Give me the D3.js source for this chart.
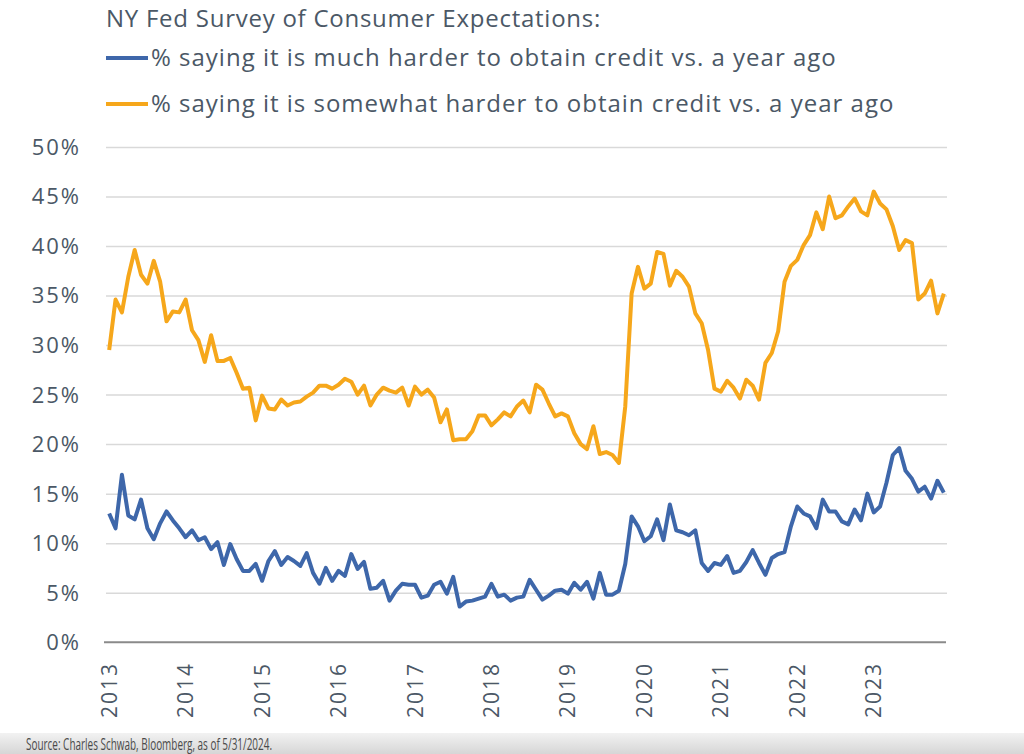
<!DOCTYPE html>
<html><head><meta charset="utf-8">
<script src="https://cdn.jsdelivr.net/npm/d3@7"></script>
<style>
body{margin:0;background:#fff}
svg{display:block}
text{font-family:"Open Sans",sans-serif}
</style>
</head><body>
<svg id="c" width="1024" height="754"></svg>
<script>
// ---- data (monthly, Jun 2013 – May 2024) ----
const months = d3.timeMonth.range(new Date(2013, 5, 1), new Date(2024, 5, 1)).map(d3.timeFormat("%Y-%m"));
const muchHarder = [
 13.0,11.5,16.9,12.8,12.4,14.4,11.5,10.4,12.0,13.2,12.3,11.5,10.6,11.3,10.3,10.6,9.4,10.1,7.8,9.9,
 8.4,7.2,7.2,7.9,6.2,8.2,9.2,7.8,8.6,8.2,7.7,9.0,7.0,5.9,7.5,6.2,7.2,6.7,8.9,7.4,
 8.1,5.4,5.5,6.2,4.2,5.2,5.9,5.8,5.8,4.5,4.7,5.8,6.1,4.9,6.6,3.6,4.1,4.2,4.4,4.6,
 5.9,4.6,4.8,4.2,4.5,4.6,6.3,5.3,4.3,4.7,5.2,5.3,4.9,6.0,5.3,6.1,4.4,7.0,4.8,4.8,
 5.2,7.9,12.7,11.7,10.2,10.7,12.4,10.3,13.9,11.3,11.1,10.8,11.3,8.0,7.2,8.0,7.8,8.7,7.0,7.2,
 8.1,9.3,8.0,6.8,8.5,8.9,9.1,11.7,13.7,13.0,12.7,11.5,14.4,13.2,13.2,12.2,11.9,13.4,12.3,15.0,
 13.1,13.7,16.1,18.9,19.6,17.3,16.5,15.2,15.7,14.5,16.3,15.1
];
const somewhatHarder = [
 29.5,34.6,33.3,36.9,39.6,37.1,36.2,38.5,36.4,32.4,33.4,33.3,34.6,31.5,30.5,28.3,31.0,28.4,28.4,28.7,
 27.2,25.6,25.7,22.4,24.9,23.6,23.5,24.5,23.9,24.2,24.3,24.8,25.2,25.9,25.9,25.6,26.0,26.6,26.3,25.0,
 25.9,23.9,25.0,25.7,25.4,25.2,25.7,23.9,25.8,25.0,25.5,24.7,22.2,23.5,20.4,20.5,20.5,21.3,22.9,22.9,
 21.9,22.5,23.2,22.8,23.8,24.4,23.2,26.0,25.5,24.1,22.8,23.1,22.8,21.1,20.0,19.5,21.8,19.0,19.2,18.9,
 18.1,23.8,35.2,37.9,35.7,36.2,39.4,39.2,36.0,37.5,36.9,35.9,33.2,32.2,29.5,25.6,25.3,26.4,25.7,24.6,
 26.5,25.9,24.5,28.2,29.2,31.4,36.4,38.0,38.6,40.1,41.1,43.4,41.7,45.0,42.8,43.1,44.0,44.8,43.5,43.1,
 45.5,44.3,43.7,42.0,39.6,40.6,40.3,34.6,35.2,36.5,33.2,35.2
];
const yearLabels = ["2013","2014","2015","2016","2017","2018","2019","2020","2021","2022","2023"];
const yTicks = [0,5,10,15,20,25,30,35,40,45,50];
const titleText = "NY Fed Survey of Consumer Expectations:";
const seriesNames = ["% saying it is much harder to obtain credit vs. a year ago",
                     "% saying it is somewhat harder to obtain credit vs. a year ago"];
const sourceText = "Source: Charles Schwab, Bloomberg, as of 5/31/2024.";

// ---- styles ----
const textColor = "#4b5866";
const colors = ["#3e67aa", "#f6a71b"];

const svg = d3.select("#c");
const x = d3.scalePoint().domain(months).range([106, 947]).padding(0.5);
const y = d3.scaleLinear().domain([0, 50]).range([642.2, 147]);

// bottom source band
const defs = svg.append("defs");
const g = defs.append("linearGradient").attr("id","band").attr("x1",0).attr("x2",0).attr("y1",0).attr("y2",1);
g.append("stop").attr("offset","0%").attr("stop-color","#f2f2f2");
g.append("stop").attr("offset","100%").attr("stop-color","#d6d6d6");
svg.append("rect").attr("x",0).attr("y",733).attr("width",1024).attr("height",21).attr("fill","url(#band)");

// gridlines
const gridG = svg.append("g")
  .attr("transform","translate(106,0)")
  .call(d3.axisLeft(y).tickValues(yTicks.filter(t=>t>0)).tickSize(-841).tickFormat(""));
gridG.select(".domain").remove();
gridG.selectAll(".tick line").attr("stroke","#d9d9d9").attr("stroke-width",1.5);

// y labels
svg.append("g").selectAll("text").data(yTicks).join("text")
  .attr("x",81).attr("y",d=>y(d)).attr("dy","0.36em")
  .attr("text-anchor","end").attr("fill",textColor)
  .attr("font-size",22).attr("letter-spacing",2)
  .text(d=>d+"%");

// x axis line
svg.append("line").attr("x1",104).attr("x2",946).attr("y1",y(0)).attr("y2",y(0))
  .attr("stroke","#8a8a8a").attr("stroke-width",2);

// x labels (every 12th month)
const labelMonths = months.filter((d,i)=>i%12===0);
svg.append("g").selectAll("text").data(labelMonths).join("text")
  .attr("transform",(d)=>`translate(${x(d)},662) rotate(-90)`)
  .attr("dy","0.36em").attr("text-anchor","end")
  .attr("fill",textColor).attr("font-size",21).attr("letter-spacing",2)
  .text((d,i)=>yearLabels[i]);

// lines
const line = d3.line().x((d,i)=>x(months[i])).y(d=>y(d));
[muchHarder, somewhatHarder].forEach((s,k)=>{
  svg.append("path").datum(s).attr("d",line).attr("fill","none")
    .attr("stroke",colors[k]).attr("stroke-width",4).attr("stroke-linejoin","round");
});

// title & legend
svg.append("text").attr("x",106).attr("y",27).attr("fill",textColor)
  .attr("font-size",24).attr("letter-spacing",0.75).text(titleText);
const legY = [58, 104];
seriesNames.forEach((n,k)=>{
  svg.append("line").attr("x1",106).attr("x2",148).attr("y1",legY[k]).attr("y2",legY[k])
    .attr("stroke",colors[k]).attr("stroke-width",4);
  svg.append("text").attr("x",151).attr("y",legY[k]+8).attr("fill",textColor)
    .attr("font-size",24).attr("letter-spacing",1).text(n);
});

// source
svg.append("text").attr("x",26).attr("y",749.5).attr("fill","#4a4a4a")
  .attr("font-family","Roboto,sans-serif")
  .attr("font-size",16).attr("textLength",246).attr("lengthAdjust","spacingAndGlyphs")
  .text(sourceText);
</script>
</body></html>
